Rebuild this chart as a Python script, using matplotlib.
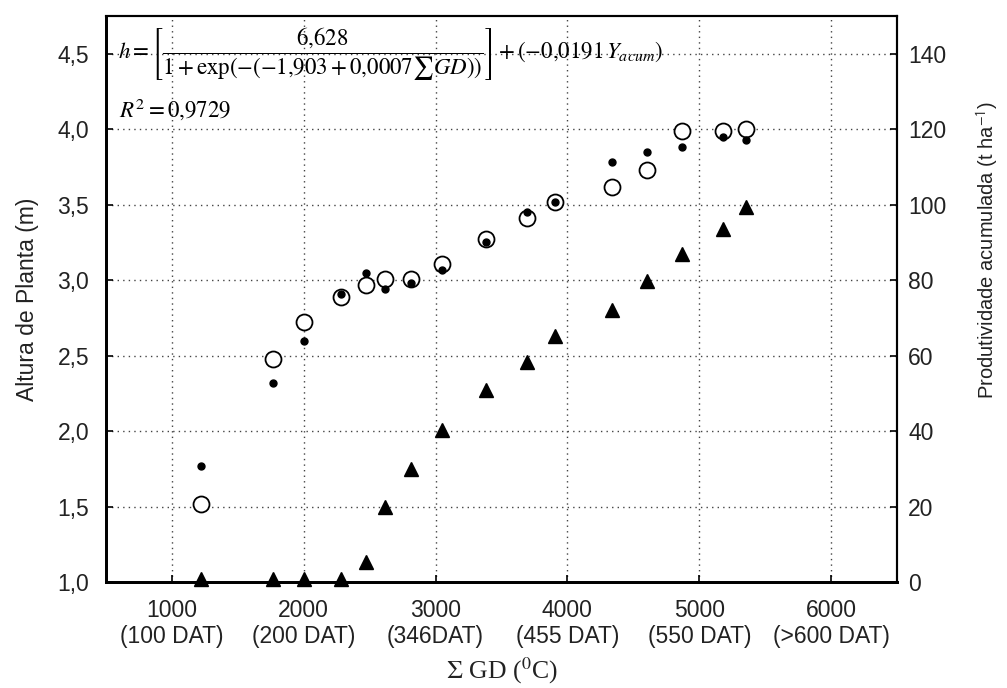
import numpy as np
import matplotlib
matplotlib.use("Agg")
import matplotlib.pyplot as plt

plt.rcParams['font.family'] = ['Liberation Sans', 'DejaVu Sans']
plt.rcParams['mathtext.fontset'] = 'stix'

# accumulated degree-days (sum of GD)
gd = [1220, 1765, 2005, 2285, 2470, 2614, 2811, 3048, 3385, 3692,
      3905, 4341, 4600, 4868, 5180, 5352]
# plant height, observed (m)
h_obs = [1.52, 2.48, 2.72, 2.89, 2.97, 3.01, 3.01, 3.11, 3.27, 3.41,
         3.52, 3.62, 3.73, 3.99, 3.99, 4.00]
# plant height, model estimate (m)
h_est = [1.77, 2.32, 2.60, 2.91, 3.05, 2.94, 2.98, 3.07, 3.25, 3.45,
         3.52, 3.78, 3.85, 3.88, 3.95, 3.93]
# accumulated yield (t/ha)
y_acum = [0.8, 0.8, 0.8, 0.8, 5.3, 19.8, 29.9, 40.4, 51.0, 58.2,
          65.3, 72.2, 79.9, 87.0, 93.6, 99.5]

xticks = [1000, 2000, 3000, 4000, 5000, 6000]
xticklabels = ['1000\n(100 DAT)', '2000\n(200 DAT)', '3000\n(346DAT)',
               '4000\n(455 DAT)', '5000\n(550 DAT)', '6000\n(>600 DAT)']
yticks_h = [1.0, 1.5, 2.0, 2.5, 3.0, 3.5, 4.0, 4.5]
yticks_p = [0, 20, 40, 60, 80, 100, 120, 140]

W, H = 1007, 688
fig = plt.figure(figsize=(W / 100, H / 100), dpi=100)
ax = fig.add_axes([106 / W, 1 - 582 / H, (897 - 106) / W, (582 - 16) / H])
ax2 = ax.twinx()

txt = '#222222'
fs = 16.5

ax.set_xlim(500, 6500)
ax.set_ylim(1.0, 4.75)
ax2.set_ylim(0, 150)

ax.grid(True, linestyle=(0, (1, 3)), color='#444444', linewidth=1.0)
ax.set_axisbelow(True)

ax.plot(gd, h_obs, 'o', ms=11.5, mfc='white', mec='black', mew=1.3,
        linestyle='none', zorder=3)
ax.plot(gd, h_est, 'o', ms=5, color='black', linestyle='none', zorder=4)
ax2.plot(gd, y_acum, '^', ms=10, color='black', linestyle='none',
         clip_on=False, zorder=3)

ax.set_xticks(xticks)
ax.set_xticklabels(xticklabels, fontsize=fs, color=txt)
ax.set_yticks(yticks_h)
ax.set_yticklabels([f'{v:.1f}'.replace('.', ',') for v in yticks_h],
                   fontsize=fs, color=txt)
ax2.set_yticks(yticks_p)
ax2.set_yticklabels([str(v) for v in yticks_p], fontsize=fs, color=txt)

for a in (ax, ax2):
    a.tick_params(direction='in', length=5, width=1.2, color='black')
ax.tick_params(axis='x', pad=12)
ax.tick_params(axis='y', pad=12)
ax2.tick_params(axis='y', pad=8)

for a in (ax, ax2):
    a.spines['left'].set_linewidth(2.0)
    a.spines['bottom'].set_linewidth(2.0)
    a.spines['top'].set_linewidth(1.5)
    a.spines['right'].set_linewidth(1.5)

ax.set_xlabel(r'$\Sigma$ GD ($^{0}$C)', fontsize=18.5, color=txt,
              family='Liberation Serif', labelpad=5)
ax.set_ylabel('Altura de Planta (m)', fontsize=fs, color=txt)
ax2.set_ylabel(r'Produtividade acumulada (t ha$^{\mathsf{-1}}$)',
               fontsize=14.5, color=txt)
ax.yaxis.set_label_coords(-0.085, 0.5)
ax2.yaxis.set_label_coords(1.099, 0.587)

formula = (r'$h=\left[\dfrac{6{,}628}{1+\exp(-(-1{,}903+0{,}0007\sum GD))}'
           r'\right]+\left(-0{,}0191\,Y_{acum}\right)$')
ax.text(0.015, 0.932, formula, transform=ax.transAxes, fontsize=16.5,
        ha='left', va='center', color='black', zorder=5)
ax.text(0.017, 0.836, r'$R^2=0{,}9729$', transform=ax.transAxes,
        fontsize=16.5, ha='left', va='center', color='black', zorder=5)

fig.savefig('out.png', dpi=100)
